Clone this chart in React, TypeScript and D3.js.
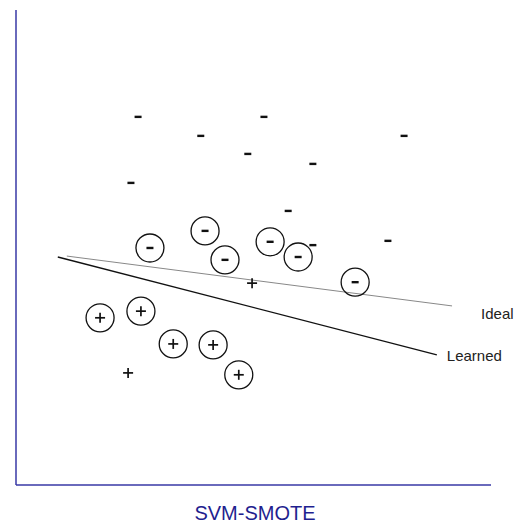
import React from 'react';
import * as d3 from 'd3';

// data in a 0..10 feature space
const plainMinus: [number, number][] = [
  [2.57, 7.75], [3.89, 7.35], [5.22, 7.75], [4.88, 6.97], [6.25, 6.76],
  [8.17, 7.35], [2.42, 6.36], [5.73, 5.77], [6.25, 5.05], [7.83, 5.14],
];
const circledMinus: [number, number][] = [
  [2.82, 4.99], [3.98, 5.35], [4.4, 4.74], [5.35, 5.12], [5.94, 4.8], [7.14, 4.27],
];
const plainPlus: [number, number][] = [[4.97, 4.25], [2.36, 2.36]];
const circledPlus: [number, number][] = [
  [1.77, 3.52], [2.63, 3.66], [3.31, 2.97], [4.15, 2.95], [4.69, 2.32],
];
const idealLine: [number, number][] = [[1.07, 4.82], [9.18, 3.77]];
const learnedLine: [number, number][] = [[0.88, 4.8], [8.86, 2.74]];

const App: React.FC = () => {
  const width = 522;
  const height = 525;
  const x = d3.scaleLinear().domain([0, 10]).range([16, 491]);
  const y = d3.scaleLinear().domain([0, 10]).range([485, 10]);
  const line = d3.line<[number, number]>().x((d) => x(d[0])).y((d) => y(d[1]));

  const minus = (cx: number, cy: number, k: string) => (
    <line key={k} x1={cx - 3.5} x2={cx + 3.5} y1={cy} y2={cy} stroke="#111" strokeWidth={2.4} />
  );
  const plus = (cx: number, cy: number, k: string) => (
    <g key={k} stroke="#111" strokeWidth={1.7}>
      <line x1={cx - 5} x2={cx + 5} y1={cy} y2={cy} />
      <line x1={cx} x2={cx} y1={cy - 5} y2={cy + 5} />
    </g>
  );

  const idealEnd = idealLine[1];
  const learnedEnd = learnedLine[1];

  return (
    <svg
      width={width}
      height={height}
      style={{ position: 'absolute', left: 0, top: 0 }}
      fontFamily="Liberation Sans, Arial, sans-serif"
    >
      <rect width={width} height={height} fill="#fff" />
      {/* axes */}
      <line x1={x(0)} x2={x(0)} y1={y(10)} y2={y(0)} stroke="#3838a6" strokeWidth={1.5} />
      <line x1={x(0)} x2={x(10)} y1={y(0)} y2={y(0)} stroke="#3838a6" strokeWidth={1.5} />

      {/* decision boundaries */}
      <path d={line(idealLine) ?? ''} fill="none" stroke="#888" strokeWidth={1} />
      <path d={line(learnedLine) ?? ''} fill="none" stroke="#111" strokeWidth={1.3} />
      <text x={x(idealEnd[0]) + 29} y={y(idealEnd[1]) + 13} fontSize={15} fill="#222">Ideal</text>
      <text x={x(learnedEnd[0]) + 10} y={y(learnedEnd[1]) + 6} fontSize={15} fill="#222">Learned</text>

      {plainMinus.map((d, i) => minus(x(d[0]), y(d[1]), `pm${i}`))}
      {circledMinus.map((d, i) => (
        <g key={`cm${i}`}>
          <circle cx={x(d[0])} cy={y(d[1])} r={14} fill="none" stroke="#111" strokeWidth={1.3} />
          {minus(x(d[0]), y(d[1]), `cmm${i}`)}
        </g>
      ))}
      {plainPlus.map((d, i) => plus(x(d[0]), y(d[1]), `pp${i}`))}
      {circledPlus.map((d, i) => (
        <g key={`cp${i}`}>
          <circle cx={x(d[0])} cy={y(d[1])} r={14} fill="none" stroke="#111" strokeWidth={1.3} />
          {plus(x(d[0]), y(d[1]), `cpp${i}`)}
        </g>
      ))}

      <text x={255} y={520} textAnchor="middle" fontSize={20} fill="#1f1f8f">SVM-SMOTE</text>
    </svg>
  );
};

export default App;
